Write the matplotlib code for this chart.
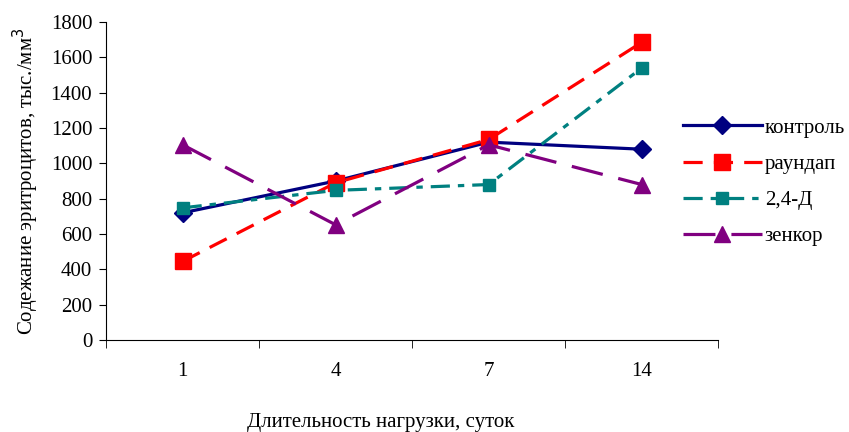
import matplotlib
matplotlib.use("Agg")
import matplotlib.pyplot as plt

plt.rcParams["font.family"] = ["Liberation Serif", "DejaVu Serif"]

# Data
days = ["1", "4", "7", "14"]
kontrol = [720, 900, 1120, 1080]
roundup = [445, 890, 1135, 1685]
d24 = [748, 847, 880, 1540]
zenkor = [1105, 652, 1105, 880]

fig = plt.figure(figsize=(8.49, 4.32), dpi=100)
ax = fig.add_axes([0.125, 0.213, 0.721, 0.736])

x = list(range(len(days)))
ax.plot(x, kontrol, color="#000080", lw=2.3, marker="D", ms=9, label="контроль")
ax.plot(x, roundup, color="#ff0000", lw=2.3, marker="s", ms=11,
        dashes=(6, 3.5), label="раундап")
ax.plot(x, d24, color="#008080", lw=2.3, marker="s", ms=8.5,
        dashes=(6, 2.5, 2, 2.5), label="2,4-Д")
ax.plot(x, zenkor, color="#800080", lw=2.3, marker="^", ms=12,
        dashes=(10, 5), label="зенкор")

ax.set_xlim(-0.5, len(days) - 0.5)
ax.set_ylim(0, 1800)
ax.set_yticks(range(0, 1801, 200))
ax.set_xticks(x)
ax.set_xticklabels(days)
ax.set_xticks([i + 0.5 for i in range(-1, len(days))], minor=True)
ax.tick_params(axis="x", which="major", length=0, pad=16, labelsize=15)
ax.tick_params(axis="x", which="minor", length=6, direction="out")
ax.tick_params(axis="y", length=5, direction="out", labelsize=15, pad=5)

for side in ["top", "right"]:
    ax.spines[side].set_visible(False)

ax.set_ylabel("Содежание эритроцитов, тыс./мм$^3$", fontsize=15, labelpad=7)
fig.text(0.448, 0.012, "Длительность нагрузки, суток", ha="center", fontsize=15)

ax.legend(loc="center left", bbox_to_anchor=(0.804, 0.578),
          bbox_transform=fig.transFigure, frameon=False,
          fontsize=15, handlelength=3.8, borderaxespad=0, borderpad=0,
          labelspacing=0.8, handletextpad=0.15)

plt.savefig("out.png", dpi=100)
